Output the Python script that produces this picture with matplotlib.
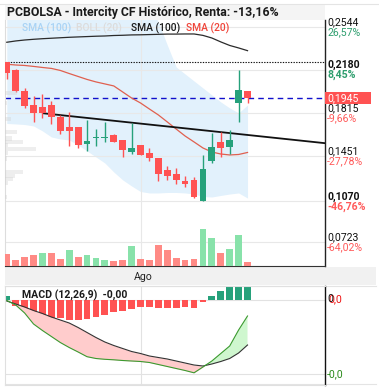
import matplotlib
matplotlib.use('Agg')
import matplotlib.pyplot as plt
import matplotlib.transforms as mtransforms
from matplotlib.patches import Rectangle
from matplotlib.lines import Line2D
import numpy as np

plt.rcParams['font.family'] = ['Roboto', 'DejaVu Sans']

# ---------------- data ----------------
title = 'PCBOLSA - Intercity CF Histórico, Renta: -13,16%'
opens  = [0.2245, 0.2180, 0.2003, 0.1884, 0.1865, 0.1884, 0.1785, 0.1701, 0.1701, 0.1557,
          0.1603, 0.1603, 0.1631, 0.1589, 0.1490, 0.1546, 0.1479, 0.1434, 0.1335, 0.1301,
          0.1242, 0.1248, 0.1070, 0.1411, 0.1569, 0.1529, 0.1899, 0.2005]
highs  = [0.2245, 0.2188, 0.2025, 0.1960, 0.1975, 0.1918, 0.1800, 0.1828, 0.1701, 0.1758,
          0.1681, 0.1743, 0.1639, 0.1589, 0.1735, 0.1546, 0.1518, 0.1434, 0.1369, 0.1349,
          0.1287, 0.1276, 0.1462, 0.1645, 0.1654, 0.1670, 0.2180, 0.2005]
lows   = [0.2104, 0.1992, 0.1856, 0.1743, 0.1777, 0.1721, 0.1637, 0.1540, 0.1523, 0.1498,
          0.1540, 0.1574, 0.1569, 0.1447, 0.1470, 0.1464, 0.1411, 0.1245, 0.1251, 0.1219,
          0.1194, 0.1096, 0.1070, 0.1392, 0.1445, 0.1468, 0.1743, 0.1899]
closes = [0.2152, 0.2005, 0.1878, 0.1819, 0.1819, 0.1785, 0.1667, 0.1667, 0.1546, 0.1580,
          0.1603, 0.1603, 0.1574, 0.1507, 0.1518, 0.1464, 0.1439, 0.1304, 0.1284, 0.1253,
          0.1219, 0.1109, 0.1343, 0.1529, 0.1523, 0.1586, 0.2011, 0.1945]
volumes = [120, 60, 87, 107, 130, 130, 67, 160, 87, 107, 77, 57, 47, 57, 197, 67, 57, 207,
           157, 77, 57, 67, 367, 277, 130, 167, 307, 40]
sma100 = [0.2414, 0.2425, 0.2433, 0.2439, 0.2444, 0.2448, 0.2452, 0.2456, 0.2459, 0.2462,
          0.2465, 0.2467, 0.2471, 0.2473, 0.2476, 0.2477, 0.2479, 0.2481, 0.2483, 0.2483,
          0.2484, 0.2484, 0.2472, 0.2450, 0.2417, 0.2387, 0.2366, 0.2343]
sma20 = [0.2228, 0.2222, 0.2218, 0.2210, 0.2201, 0.2193, 0.2176, 0.2150, 0.2125, 0.2100,
         0.2079, 0.2062, 0.2045, 0.1994, 0.1943, 0.1901, 0.1850, 0.1800, 0.1741, 0.1681,
         0.1622, 0.1572, 0.1521, 0.1487, 0.1470, 0.1462, 0.1466, 0.1483]
boll_upper = [0.300, 0.300, 0.300, 0.300, 0.300, 0.300, 0.300, 0.300, 0.300, 0.300,
              0.300, 0.300, 0.300, 0.300, 0.295, 0.285, 0.272, 0.2586, 0.2391, 0.2205,
              0.2146, 0.2087, 0.2028, 0.1969, 0.1910, 0.1859, 0.1817, 0.1884]
boll_lower = [0.1728, 0.1724, 0.1719, 0.1707, 0.1665, 0.1614, 0.1597, 0.1589, 0.1546, 0.1496,
              0.1445, 0.1394, 0.1318, 0.1251, 0.1200, 0.1153, 0.1141, 0.1141, 0.1145, 0.1145,
              0.1141, 0.1132, 0.1111, 0.1107, 0.1120, 0.1132, 0.1141, 0.1098]
macd_line = [-0.00005, -0.0005, -0.0013, -0.0024, -0.00305, -0.00365, -0.00425, -0.00475,
             -0.0052, -0.00567, -0.00585, -0.00593, -0.00598, -0.00605, -0.0061, -0.00615,
             -0.00625, -0.00645, -0.00665, -0.00685, -0.00705, -0.00728, -0.0067, -0.0061,
             -0.00535, -0.0046, -0.0030, -0.0016]
signal_line = [-0.0001, -0.0004, -0.0007, -0.00105, -0.00135, -0.0017, -0.0020, -0.0023,
               -0.00275, -0.00325, -0.00375, -0.0042, -0.00455, -0.00485, -0.00515, -0.00535,
               -0.0056, -0.00575, -0.0059, -0.0061, -0.0063, -0.0065, -0.0066, -0.0064,
               -0.00615, -0.00585, -0.0053, -0.0045]
macd_hist = [0.00045, -0.00057, -0.0010, -0.00147, -0.00167, -0.00183, -0.00183, -0.0020,
             -0.0020, -0.0019, -0.00173, -0.00147, -0.00123, -0.00107, -0.00085, -0.00073,
             -0.00067, -0.0008, -0.0008, -0.0008, -0.00067, -0.0008, -0.00023, 0.0004,
             0.00093, 0.0018, 0.0019, 0.0019]
price_ticks = [0.2544, 0.2180, 0.1815, 0.1451, 0.1070, 0.0723]
price_tick_labels = ['0,2544', '0,2180', '0,1815', '0,1451', '0,1070', '0,0723']
pct_labels = ['26,57%', '8,45%', '-9,66%', '-27,78%', '-46,76%', '-64,02%']
bold_ticks = [False, True, False, False, True, False]
last_price = 0.1945
last_price_label = '0,1945'
ref_high = 0.2245
trend_x = [4.1, 36.0]
trend_y = [0.1814, 0.1559]
profile_price = [0.1982, 0.1901, 0.1766, 0.1660, 0.1601, 0.1572, 0.1546, 0.1513, 0.1476,
                 0.1432, 0.1318, 0.1284, 0.1256, 0.1225, 0.1103]
profile_size = [12, 2, 6, 11.7, 6.7, 17.7, 3, 31, 3, 2, 18, 10, 7.7, 3, 2]
month_index = 15
month_label = 'Ago'
legend_items = [('SMA (100)', '#a9d3f5'), ('BOLL (20)', '#dcdcdc'),
                ('SMA (100)', '#1a1a1a'), ('SMA (20)', '#f0453a')]
macd_title = 'MACD (12,26,9)  -0,00'

# ---------------- layout ----------------
W, H = 379, 390
fig = plt.figure(figsize=(W / 100, H / 100), dpi=100)


def rect(x0, y0, x1, y1):
    return [x0 / W, 1 - y1 / H, (x1 - x0) / W, (y1 - y0) / H]


RED = '#ff5252'
GREEN = '#26a17b'
VRED = '#ff8a85'
VGREEN = '#88e2aa'

n = len(closes)
idx = np.arange(n)
O = np.array(opens); C = np.array(closes); Hh = np.array(highs); L = np.array(lows)
XL = (-0.2, 35.69)
YL = (0.0524, 0.2602)

# decorative background pieces
fig.add_artist(Rectangle((5 / W, 1 - 20 / H), 320 / W, 15 / H, transform=fig.transFigure,
                         facecolor='#f4f4f4', edgecolor='none', zorder=-1))
fig.add_artist(Rectangle((5 / W, 1 - 285 / H), 371 / W, 18 / H, transform=fig.transFigure,
                         facecolor='#f1f1f1', edgecolor='none', zorder=-1))
for (x0, y0, x1, y1) in [(0, 4, W, 4), (5, 286, 376, 286), (5, 384, 376, 384)]:
    fig.add_artist(Line2D([x0 / W, x1 / W], [1 - y0 / H, 1 - y1 / H], transform=fig.transFigure,
                          color='#e4e4e4', lw=0.8, zorder=-1))

# main price axes
ax = fig.add_axes(rect(5, 20, 325, 266))
ax.set_facecolor('none')
ax.set_xlim(*XL)
ax.set_ylim(*YL)
ax.set_yticks(price_ticks)
ax.set_xticks([month_index])
ax.grid(True, color='#e8e8e8', lw=0.8)
ax.tick_params(length=0, labelleft=False, labelbottom=False, labelright=False)
ax.spines['top'].set_visible(False)
ax.spines['left'].set_color('#dddddd')
ax.spines['right'].set_color('#222222')
ax.spines['right'].set_linewidth(1.0)
ax.spines['bottom'].set_color('#333333')
ax.spines['bottom'].set_linewidth(0.8)

ax.fill_between(idx, boll_lower, boll_upper, color='#e2f1fc', lw=0, zorder=1)
ax.plot(idx, sma100, color='#2b2b2b', lw=0.9, zorder=3)
ax.plot(idx, sma20, color='#e0604f', lw=0.9, zorder=3)
ax.axhline(ref_high, color='#111111', lw=0.8, ls=(0, (1.2, 1.2)), zorder=2)
ax.axhline(last_price, color='#1111cc', lw=1.0, ls=(0, (4, 3)), zorder=2)
ax.plot(trend_x, trend_y, color='#111111', lw=1.3, zorder=4)

up = C >= O
ccol = [GREEN if u else RED for u in up]
ax.vlines(idx, L, Hh, colors=ccol, lw=1.0, zorder=5)
body_low = np.minimum(O, C)
body_h = np.maximum(np.abs(C - O), 0.0011)
ax.bar(idx, body_h, bottom=body_low, width=0.76, color=ccol, lw=0, zorder=6)

# volume
axv = ax.twinx()
axv.set_ylim(0, 2460)
axv.set_xlim(*XL)
axv.axis('off')
prev = np.concatenate([[O[0]], C[:-1]])
vcol = [VGREEN if c >= p else VRED for c, p in zip(C, prev)]
vcol[0] = VGREEN if C[0] >= O[0] else VRED
axv.bar(idx, volumes, width=0.76, color=vcol, lw=0)

# volume profile overlay
axp = fig.add_axes(rect(5, 20, 325, 266))
axp.set_facecolor('none')
axp.axis('off')
axp.set_xlim(0, 320)
axp.set_ylim(*YL)
axp.barh(profile_price, profile_size, height=0.0034, left=0, color='#cfcfcf', alpha=0.35, lw=0)

# right labels
bt = mtransforms.blended_transform_factory(ax.transAxes, ax.transData)
for v, lab, pct, b in zip(price_ticks, price_tick_labels, pct_labels, bold_ticks):
    t1 = mtransforms.offset_copy(bt, fig=fig, x=2, y=5, units='dots')
    t2 = mtransforms.offset_copy(bt, fig=fig, x=2, y=-5, units='dots')
    ax.text(1.0, v, lab, transform=t1, ha='left', va='center', fontsize=7.6,
            color='#111111', fontweight='bold' if b else 'normal', clip_on=False)
    pc = '#2e9e6e' if not pct.startswith('-') else '#ff5a5a'
    ax.text(1.0, v, pct, transform=t2, ha='left', va='center', fontsize=7.6,
            color=pc, fontweight='bold' if b else 'normal', clip_on=False)
box_h = (YL[1] - YL[0]) * 12 / 246
ax.add_patch(Rectangle((1.0, last_price - box_h / 2), 46 / 320, box_h, transform=bt,
                       facecolor='#ff5252', edgecolor='none', clip_on=False, zorder=9))
tl = mtransforms.offset_copy(bt, fig=fig, x=2, y=0, units='dots')
ax.text(1.0, last_price, last_price_label, transform=tl, ha='left', va='center', fontsize=7.6,
        color='white', clip_on=False, zorder=10)

# title and legend
fig.text(7 / W, 1 - 12.5 / H, title, fontsize=8.8, fontweight='bold', color='#1a1a1a',
         ha='left', va='center')
xs = [22, 76, 131, 186]
for (txt, col), x in zip(legend_items, xs):
    fig.text(x / W, 1 - 28.5 / H, txt, fontsize=7.4, color=col, ha='left', va='center',
             fontweight='medium')

fig.text(143 / W, 1 - 276.5 / H, month_label, fontsize=7.6, color='#222222', ha='center',
         va='center')

# MACD panel
axm = fig.add_axes(rect(5, 286, 325, 385))
axm.set_xlim(*XL)
axm.set_ylim(-0.0085, 0.0014)
axm.set_facecolor('none')
axm.set_yticks([0, -0.0074])
axm.set_xticks([month_index])
axm.grid(True, color='#e2e2e2', lw=0.8)
axm.tick_params(length=0, labelleft=False, labelbottom=False)
for s_ in ['top', 'left', 'bottom']:
    axm.spines[s_].set_color('#e0e0e0')
axm.spines['right'].set_color('#111111')
axm.spines['right'].set_linewidth(1.0)
hcol = [GREEN if h >= 0 else RED for h in macd_hist]
axm.bar(idx, macd_hist, width=0.76, color=hcol, lw=0, zorder=2)
m = np.array(macd_line); s = np.array(signal_line)
axm.fill_between(idx, m, s, where=m <= s, interpolate=True, color='#ffcccc', lw=0, zorder=3)
axm.fill_between(idx, m, s, where=m >= s, interpolate=True, color='#cff7cf', lw=0, zorder=3)
axm.plot(idx, s, color='#333333', lw=0.8, zorder=4)
axm.plot(idx, m, color='#3b9a2f', lw=0.8, zorder=4)
fig.text(22 / W, 1 - 295 / H, macd_title, fontsize=7.6, fontweight='bold', color='#1a1a1a',
         ha='left', va='center')
bm = mtransforms.blended_transform_factory(axm.transAxes, axm.transData)
axm.text(1.0, 0, '0,0', transform=mtransforms.offset_copy(bm, fig=fig, x=3, y=1, units='dots'),
         fontsize=7.6, color='#ee1111', ha='left', va='center', clip_on=False)
axm.text(1.0, 0, '0', transform=mtransforms.offset_copy(bm, fig=fig, x=2, y=1, units='dots'),
         fontsize=7.6, color='#111111', ha='left', va='center', clip_on=False)
axm.text(1.0, -0.0074, '-0,0', transform=mtransforms.offset_copy(bm, fig=fig, x=2, y=0, units='dots'),
         fontsize=7.6, color='#2a8a1a', ha='left', va='center', clip_on=False)

fig.savefig('out.png', dpi=100)
